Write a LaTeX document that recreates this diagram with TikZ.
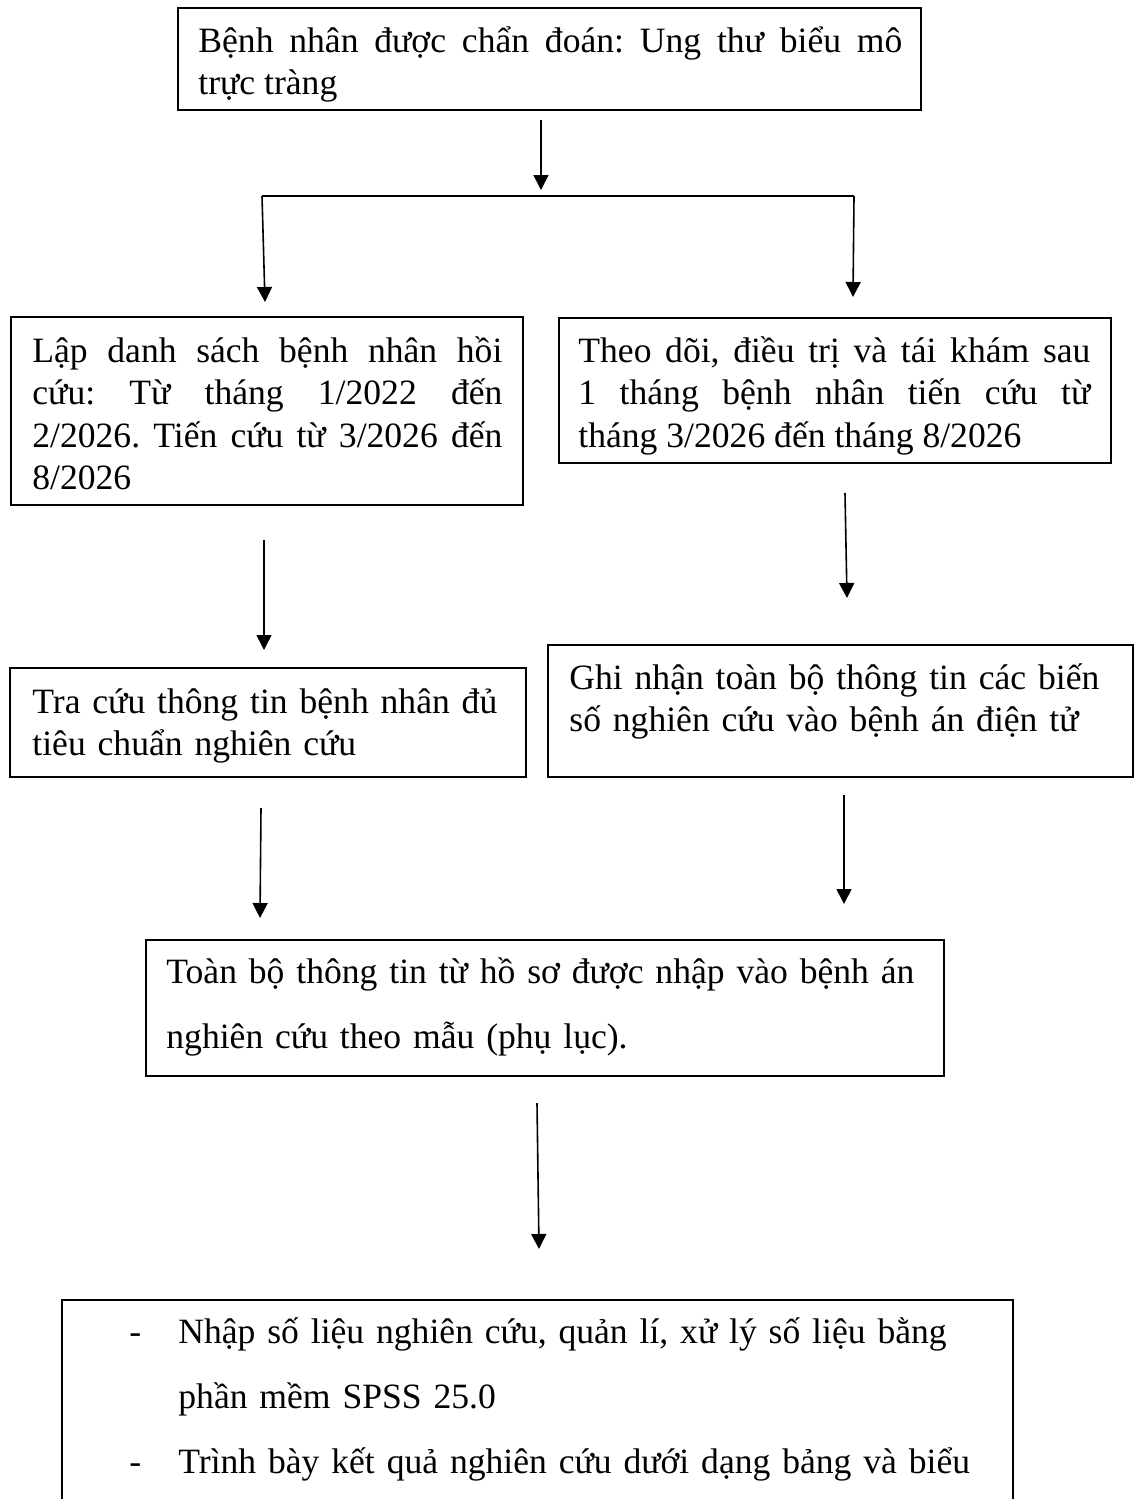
\documentclass[tikz,border=0pt]{standalone}
\usepackage{fontspec}
\setmainfont{Liberation Serif}
\usetikzlibrary{arrows.meta,fit}
\hyphenpenalty=10000
\tolerance=10000
\frenchspacing

\begin{document}
\begin{tikzpicture}[x=0.5pt,y=0.5pt,yscale=-1,xscale=1,
		box/.style={draw=black, line width=0.7pt, inner sep=0pt},
		txt/.style={anchor=base west, inner sep=0pt, font=\fontsize{17.8}{21.25}\selectfont},
		wide/.style={txt, font=\fontsize{17.8}{32.5}\selectfont},
		arr/.style={line width=0.8pt, -{Triangle[width=7.5pt,length=7.5pt]}}]
		% Set diagram left start at 0, and has height of 1499
		\useasboundingbox (0,0) rectangle (1134,1499);
		\clip (0,0) rectangle (1134,1499);

		% Ends of the arrows (free, the arrows do not touch the boxes)
		\coordinate (a1s) at (541,120);   \coordinate (a1e) at (541,190);
		\coordinate (sl) at (262,196);    \coordinate (sr) at (854,196);
		\coordinate (a2e) at (265,302);   \coordinate (a3e) at (853,297);
		\coordinate (a4s) at (264,540);   \coordinate (a4e) at (264,650);
		\coordinate (a5s) at (845,493);   \coordinate (a5e) at (847,598);
		\coordinate (a6s) at (261,808);   \coordinate (a6e) at (260,918);
		\coordinate (a7s) at (844,795);   \coordinate (a7e) at (844,904);
		\coordinate (a8s) at (537,1103);  \coordinate (a8e) at (539,1249);

		% Top box: diagnosis
		\node[box, fit={(178,8) (921,110)}] (diag) {};
		\node[txt, text width=352pt, align=justify] (diagtxt) at (198,52)
		{Bệnh nhân được chẩn đoán: Ung thư biểu mô\linebreak trực tràng};

		% Arrow down to the split line
		\draw[arr] (a1s) -- (a1e);

		% Split line and its two arrows
		\draw[line width=1pt] (sl) -- (sr);
		\draw[arr] (sl) -- (a2e);
		\draw[arr] (sr) -- (a3e);

		% Left column, first box
		\node[box, fit={(11,317) (523,505)}] (list) {};
		\node[txt, text width=235pt, align=justify] (listtxt) at (32,362)
		{Lập danh sách bệnh nhân hồi\linebreak cứu: Từ tháng 1/2022 đến\linebreak 2/2026. Tiến cứu từ 3/2026 đến\linebreak 8/2026};

		% Right column, first box
		\node[box, fit={(559,318) (1111,463)}] (follow) {};
		\node[txt, text width=256pt, align=justify] (followtxt) at (578,362)
		{Theo dõi, điều trị và tái khám sau\linebreak 1 tháng bệnh nhân tiến cứu từ\linebreak tháng 3/2026 đến tháng 8/2026};

		% Arrows to the second row
		\draw[arr] (a4s) -- (a4e);
		\draw[arr] (a5s) -- (a5e);

		% Left column, second box
		\node[box, fit={(10,668) (526,777)}] (lookup) {};
		\node[txt, text width=250pt, align=left] (lookuptxt) at (32,713)
		{Tra cứu thông tin bệnh nhân đủ\\ tiêu chuẩn nghiên cứu};

		% Right column, second box
		\node[box, fit={(548,645) (1133,777)}] (record) {};
		\node[txt, text width=280pt, align=left] (recordtxt) at (569,689)
		{Ghi nhận toàn bộ thông tin các biến\\ số nghiên cứu vào bệnh án điện tử};

		% Arrows to the merged box
		\draw[arr] (a6s) -- (a6e);
		\draw[arr] (a7s) -- (a7e);

		% Merged box
		\node[box, fit={(146,940) (944,1076)}] (entry) {};
		\node[wide, text width=395pt, align=left] (entrytxt) at (166,983)
		{Toàn bộ thông tin từ hồ sơ được nhập vào bệnh án\\ nghiên cứu theo mẫu (phụ lục).};

		% Arrow to the last box
		\draw[arr] (a8s) -- (a8e);

		% Last box (cut by the page bottom)
		\node[box, fit={(62,1300) (1013,1580)}] (spss) {};
		\node[wide, text width=415pt, align=left] (spsstxt) at (178,1343)
		{\leavevmode\llap{\makebox[24.5pt][l]{-}}Nhập số liệu nghiên cứu, quản lí, xử lý số liệu bằng\\
		phần mềm SPSS 25.0\\
		\leavevmode\llap{\makebox[24.5pt][l]{-}}Trình bày kết quả nghiên cứu dưới dạng bảng và biểu};
	\end{tikzpicture}
\end{document}
